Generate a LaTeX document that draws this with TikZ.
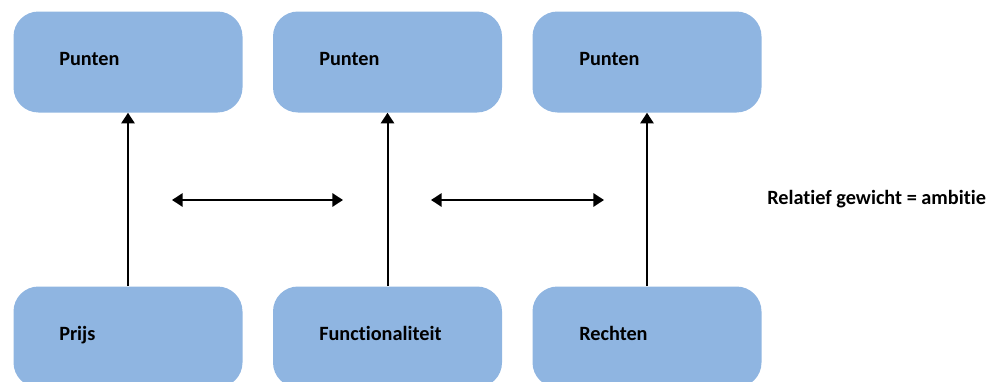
\documentclass[tikz,border=0pt]{standalone}
\usepackage{fontspec}
\setmainfont{Carlito}[Ligatures=NoCommon]
\usetikzlibrary{arrows.meta}
\definecolor{boxblue}{RGB}{143,181,225}
\tikzset{
  box/.style={rectangle, rounded corners=18.75pt, fill=boxblue, draw=none,
    minimum width=171.75pt, minimum height=75.75pt, inner sep=0pt},
  lbl/.style={anchor=base west, inner sep=0pt, font=\fontsize{15.2pt}{17pt}\selectfont\bfseries},
  arr/.style={line width=1.5pt, -{Triangle[length=8pt,width=10pt]}},
  darr/.style={line width=1.5pt, {Triangle[length=8pt,width=10pt]}-{Triangle[length=8pt,width=10pt]}}
}
\begin{document}
\begin{tikzpicture}[x=0.75pt,y=-0.75pt]
  \useasboundingbox (0,0) rectangle (997,382);
  \clip (0,0) rectangle (997,382);
  % top row
  \node[box] (p1) at (128,62) {};
  \node[box] (p2) at (387.5,62) {};
  \node[box] (p3) at (647,62) {};
  % bottom row
  \node[box] (b1) at (128,337) {};
  \node[box] (b2) at (387.5,337) {};
  \node[box] (b3) at (647,337) {};
  % labels
  \node[lbl] (p1t) at (59,65) {Punten};
  \node[lbl] (p2t) at (319,65) {Punten};
  \node[lbl] (p3t) at (579,65) {Punten};
  \node[lbl] (b1t) at (59,340) {Prijs};
  \node[lbl] (b2t) at (319,340) {Functionaliteit};
  \node[lbl] (b3t) at (579,340) {Rechten};
  \node[lbl] (rel) at (767,204) {Relatief gewicht = ambitie};
  % vertical arrows
  \draw[arr] (b1.north) -- (p1.south);
  \draw[arr] (b2.north) -- (p2.south);
  \draw[arr] (b3.north) -- (p3.south);
  % horizontal double arrows
  \coordinate (h1a) at (172,200);
  \coordinate (h1b) at (343,200);
  \coordinate (h2a) at (431,200);
  \coordinate (h2b) at (604,200);
  \draw[darr] (h1a) -- (h1b);
  \draw[darr] (h2a) -- (h2b);
\end{tikzpicture}
\end{document}
